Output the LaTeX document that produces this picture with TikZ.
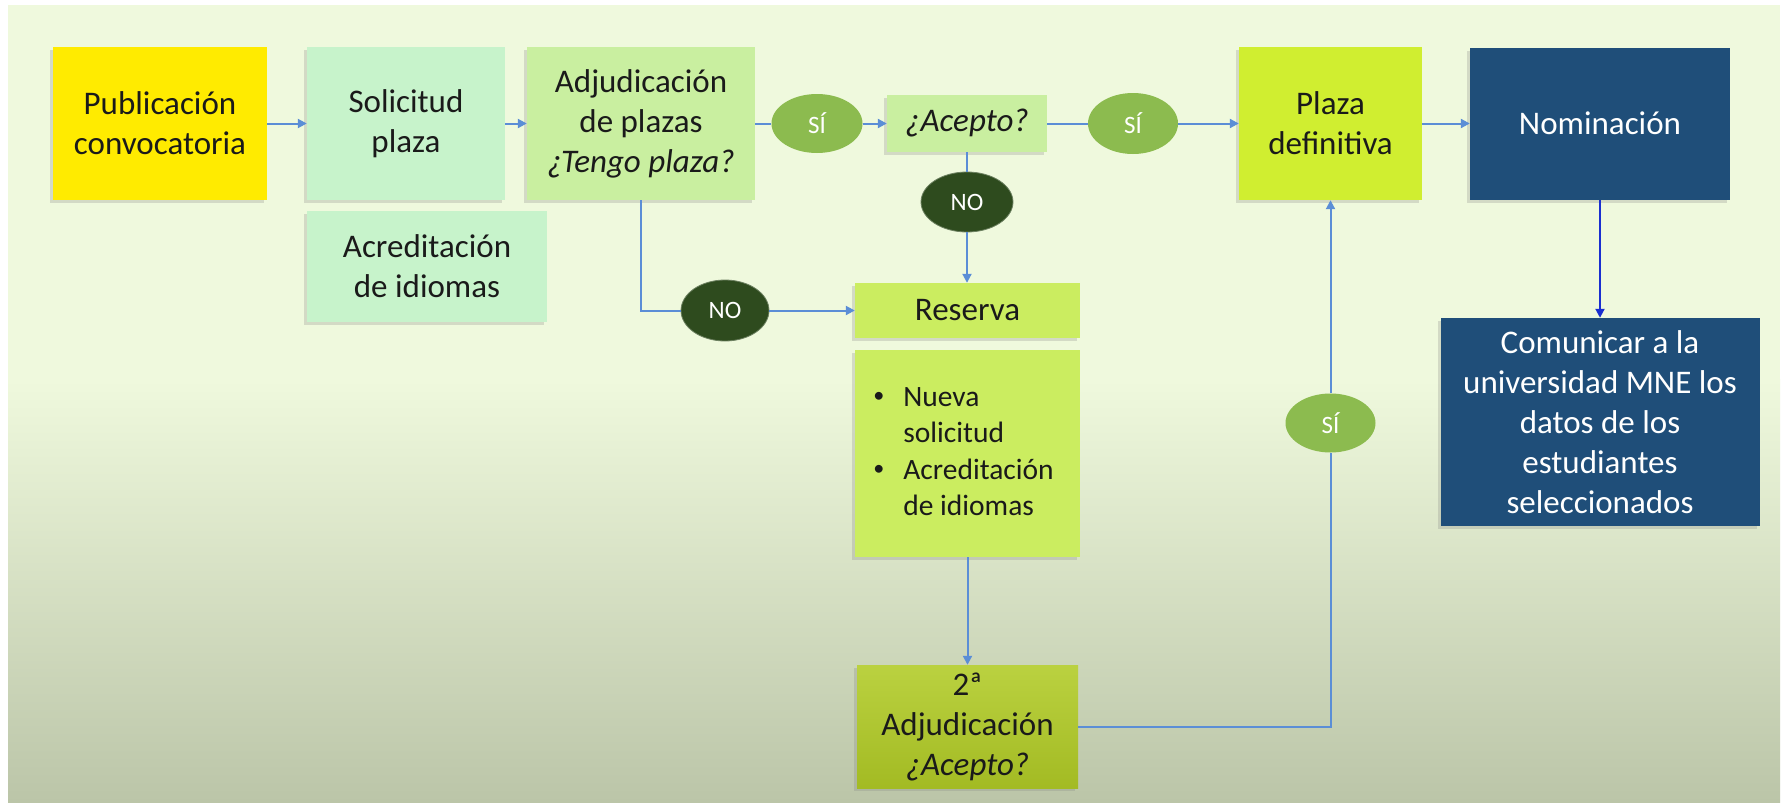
\documentclass[tikz,border=0pt]{standalone}
\usepackage{fontspec}
\setmainfont{Carlito}
\usetikzlibrary{shapes.geometric,arrows.meta,shadows,calc}
\definecolor{bgtop}{HTML}{EFF9DD}
\definecolor{bgbot}{HTML}{BBC5A8}
\definecolor{yellowc}{HTML}{FFEB00}
\definecolor{mintc}{HTML}{C7F3CB}
\definecolor{adjc}{HTML}{C9EFA0}
\definecolor{plazac}{HTML}{D0EE30}
\definecolor{resc}{HTML}{CBED60}
\definecolor{adjtwoc}{HTML}{B1CB26}
\definecolor{sic}{HTML}{8CBB4F}
\definecolor{noc}{HTML}{2E4B1E}
\definecolor{navyc}{HTML}{1F4E79}
\definecolor{arrowc}{HTML}{5B8ED6}
\definecolor{darkarrowc}{HTML}{1A2FD0}
\definecolor{textc}{HTML}{1A1A1A}
\newcommand{\smallbul}{\raisebox{0.12em}{\scalebox{0.75}{\textbullet}}}
\begin{document}
\begin{tikzpicture}[x=1pt,y=-1pt,
  box/.style={rectangle, inner sep=0pt, align=center, text=textc,
    font={\fontsize{33}{40}\selectfont},
    drop shadow={shadow xshift=-3pt, shadow yshift=-3pt, opacity=0.25}},
  ell/.style={ellipse, inner sep=0pt, text=white,
    font={\fontsize{25}{28}\selectfont}},
  sinode/.style={ell, fill=sic},
  nonode/.style={ell, fill=noc, draw=noc!70!white, line width=0.8pt},
  ln/.style={draw=arrowc, line width=2pt},
  arr/.style={ln, -{Triangle[length=9pt,width=9pt]}},
  arrdark/.style={draw=darkarrowc, line width=2pt, -{Triangle[length=9pt,width=9pt]}}
]
\useasboundingbox (0,0) rectangle (1783,803);
\fill[white] (0,0) rectangle (1783,803);
\fill[bgtop] (8,5) rectangle (1780,380);
\shade[top color=bgtop, bottom color=bgbot] (8,379.5) rectangle (1780,803);

% boxes
\node[box, fill=yellowc, minimum width=214pt, minimum height=153pt] (pub) at (160,123.5) {Publicación\\convocatoria};
\node[box, fill=mintc, minimum width=198pt, minimum height=153pt] (sol) at (406,123.5) {Solicitud\\plaza};
\node[box, fill=mintc, minimum width=240pt, minimum height=111pt] (acr) at (427,266.5) {Acreditación\\de idiomas};
\node[box, fill=adjc, minimum width=228pt, minimum height=153pt] (adj) at (641,123.5) {Adjudicación\\de plazas\\\textit{¿Tengo plaza?}};
\node[box, fill=adjc, minimum width=160pt, minimum height=57pt] (acep) at (967,123.5) {\textit{¿Acepto?}};
\node[box, fill=plazac, minimum width=183pt, minimum height=153pt] (plaza) at (1330.5,123.5) {Plaza\\definitiva};
\node[box, fill=navyc, text=white, minimum width=260pt, minimum height=152pt] (nom) at (1600,123.5) {Nominación};
\node[box, fill=navyc, text=white, minimum width=319pt, minimum height=208pt] (com) at (1600,422) {Comunicar a la\\universidad MNE los\\datos de los\\estudiantes\\seleccionados};
\node[box, fill=resc, minimum width=225pt, minimum height=55pt] (res) at (967.5,310.5) {Reserva};
\node[box, fill=resc, minimum width=225pt, minimum height=207pt, align=left,
  font={\fontsize{29.5}{36.5}\selectfont}] (bul) at (967.5,453.5)
  {\begin{tabular}{@{}l@{\hspace{19pt}}l@{}}
   \smallbul & Nueva\\
             & solicitud\\
   \smallbul & Acreditación\\
             & de idiomas
   \end{tabular}\hspace{8pt}};
\node[box, top color=adjtwoc!88!white, bottom color=adjtwoc!92!black, minimum width=221pt, minimum height=123pt] (adj2) at (967.5,726.5) {2ª\\Adjudicación\\\textit{¿Acepto?}};

% decision ellipses
\node[sinode, minimum width=91pt, minimum height=59pt] (si1) at (817,123.5) {SÍ};
\node[sinode, minimum width=90pt, minimum height=61pt] (si2) at (1133,123.5) {SÍ};
\node[sinode, minimum width=90pt, minimum height=59pt] (si3) at (1330.5,423) {SÍ};
\node[nonode, minimum width=92pt, minimum height=60pt] (no2) at (967,202) {NO};
\node[nonode, minimum width=88pt, minimum height=61pt] (no1) at (725,310.5) {NO};

% connectors
\draw[arr] (pub) -- (sol);
\draw[arr] (sol) -- (adj);
\draw[ln] (adj) -- (si1);
\draw[arr] (si1) -- (acep);
\draw[ln] (acep) -- (si2);
\draw[arr] (si2) -- (plaza);
\draw[arr] (plaza) -- (nom);
\draw[arrdark] (nom.south) -- (nom.south |- com.north);
\draw[ln] (acep.south) -- (no2.north);
\draw[arr] (no2.south) -- (no2.south |- res.north);
\draw[ln] (adj.south) |- (no1.west);
\draw[arr] (no1) -- (res);
\draw[arr] (bul.south) -- (bul.south |- adj2.north);
\draw[ln] (adj2.east) -| (si3.south);
\draw[arr] (si3.north) -- (si3.north |- plaza.south);
\end{tikzpicture}
\end{document}
